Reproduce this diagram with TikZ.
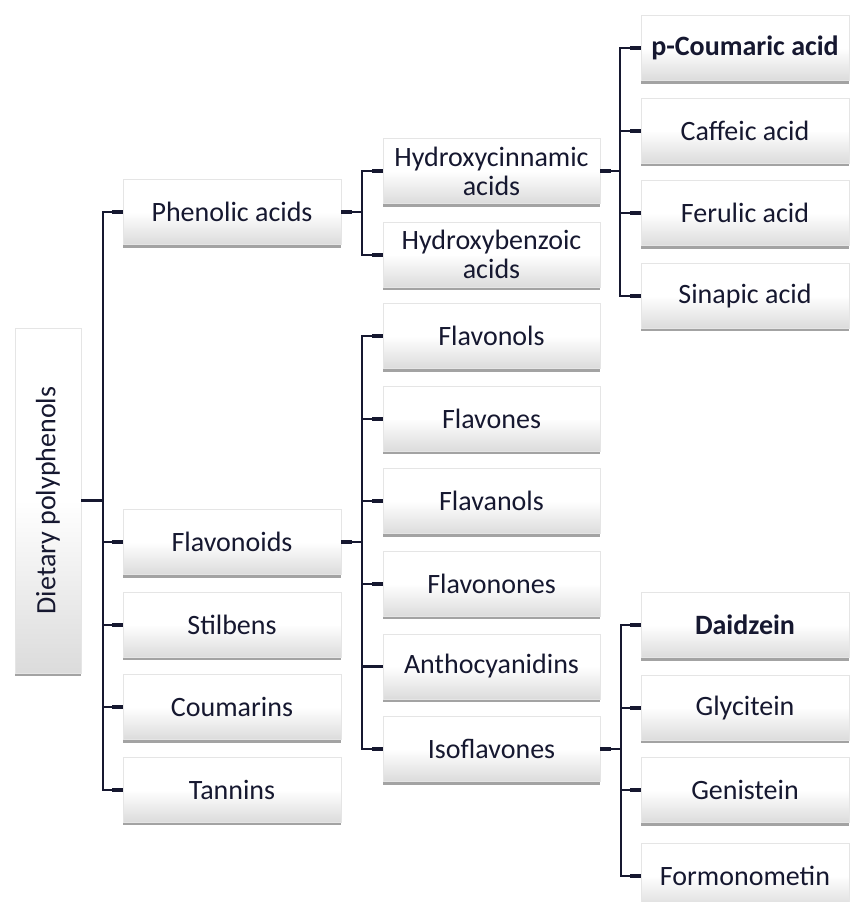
\documentclass[tikz,border=0pt]{standalone}
\usepackage{fontspec}
\setmainfont{Carlito}
\usetikzlibrary{positioning,shadows}

\definecolor{navy}{RGB}{22,24,48}

\begin{document}
\begin{tikzpicture}[
  x=1pt, y=-1pt,
  node distance=17pt,
  box/.style={draw=black!10,line width=0.6pt,align=center,inner sep=0pt,text=navy,
    minimum width=218pt,minimum height=65pt,
    top color=white,bottom color=black!14,middle color=white,
    drop shadow={shadow xshift=0pt,shadow yshift=-3pt,fill=black!60,opacity=0.6},
    font=\fontsize{28}{29}\selectfont},
  leaf/.style={box,minimum width=208pt},
  conn/.style={draw=navy,line width=2.2pt},
  stub/.style={draw=navy,line width=3.8pt}
]
\useasboundingbox (0,0) rectangle (849,902);

% root
\node[box,minimum width=66pt,minimum height=345pt] (root) at (48,500.5)
  {\rotatebox{90}{Dietary polyphenols}};

% first level
\node[box] (phen) at (232,212) {Phenolic acids};
\node[box] (flav) at (232,542) {Flavonoids};
\node[box, below=of flav] (stil) {Stilbens};
\node[box, below=of stil] (coum) {Coumarins};
\node[box, below=of coum] (tann) {Tannins};

% phenolic acids
\node[box,minimum width=217pt] (hcin) at (491.5,171) {Hydroxycinnamic\\acids};
\node[box,minimum width=217pt, below=18pt of hcin] (hben) {Hydroxybenzoic\\acids};

% flavonoids
\node[box,minimum width=217pt] (flvl) at (491.5,336) {Flavonols};
\node[box,minimum width=217pt, below=of flvl] (flvn) {Flavones};
\node[box,minimum width=217pt, below=of flvn] (flan) {Flavanols};
\node[box,minimum width=217pt, below=of flan] (flon) {Flavonones};
\node[box,minimum width=217pt, below=of flon] (anth) {Anthocyanidins};
\node[box,minimum width=217pt, below=of anth] (isof) {Isoflavones};

% hydroxycinnamic acids
\node[leaf] (pcou) at (745,48) {\textbf{p-Coumaric acid}};
\node[leaf, below=of pcou] (caff) {Caffeic acid};
\node[leaf, below=of caff] (feru) {Ferulic acid};
\node[leaf, below=of feru] (sina) {Sinapic acid};

% isoflavones
\node[leaf] (daid) at (745,625) {\textbf{Daidzein}};
\node[leaf, below=of daid] (glyc) {Glycitein};
\node[leaf, below=of glyc] (geni) {Genistein};
\node[leaf, below=20pt of geni] (form) {Formonometin};

% connectors
\draw[conn] (root.east) -- ++(22,0) |- (phen.west);
\draw[conn] (root.east) -- ++(22,0) |- (flav.west);
\draw[conn] (root.east) -- ++(22,0) |- (stil.west);
\draw[conn] (root.east) -- ++(22,0) |- (coum.west);
\draw[conn] (root.east) -- ++(22,0) |- (tann.west);

\draw[conn] (phen.east) -- ++(21,0) |- (hcin.west);
\draw[conn] (phen.east) -- ++(21,0) |- (hben.west);

\draw[conn] (flav.east) -- ++(21,0) |- (flvl.west);
\draw[conn] (flav.east) -- ++(21,0) |- (flvn.west);
\draw[conn] (flav.east) -- ++(21,0) |- (flan.west);
\draw[conn] (flav.east) -- ++(21,0) |- (flon.west);
\draw[conn] (flav.east) -- ++(21,0) |- (anth.west);
\draw[conn] (flav.east) -- ++(21,0) |- (isof.west);

\draw[conn] (hcin.east) -- ++(20,0) |- (pcou.west);
\draw[conn] (hcin.east) -- ++(20,0) |- (caff.west);
\draw[conn] (hcin.east) -- ++(20,0) |- (feru.west);
\draw[conn] (hcin.east) -- ++(20,0) |- (sina.west);

\draw[conn] (isof.east) -- ++(21,0) |- (daid.west);
\draw[conn] (isof.east) -- ++(21,0) |- (glyc.west);
\draw[conn] (isof.east) -- ++(21,0) |- (geni.west);
\draw[conn] (isof.east) -- ++(21,0) |- (form.west);

% thick ends
\draw[stub] (root.east) -- ++(11,0);
\draw[stub] (phen.west) -- ++(-11,0);
\draw[stub] (flav.west) -- ++(-11,0);
\draw[stub] (stil.west) -- ++(-11,0);
\draw[stub] (coum.west) -- ++(-11,0);
\draw[stub] (tann.west) -- ++(-11,0);
\draw[stub] (phen.east) -- ++(11,0);
\draw[stub] (flav.east) -- ++(11,0);
\draw[stub] (hcin.west) -- ++(-11,0);
\draw[stub] (hben.west) -- ++(-11,0);
\draw[stub] (flvl.west) -- ++(-11,0);
\draw[stub] (flvn.west) -- ++(-11,0);
\draw[stub] (flan.west) -- ++(-11,0);
\draw[stub] (flon.west) -- ++(-11,0);
\draw[stub] (anth.west) -- ++(-11,0);
\draw[stub] (isof.west) -- ++(-11,0);
\draw[stub] (hcin.east) -- ++(11,0);
\draw[stub] (isof.east) -- ++(11,0);
\draw[stub] (pcou.west) -- ++(-11,0);
\draw[stub] (caff.west) -- ++(-11,0);
\draw[stub] (feru.west) -- ++(-11,0);
\draw[stub] (sina.west) -- ++(-11,0);
\draw[stub] (daid.west) -- ++(-11,0);
\draw[stub] (glyc.west) -- ++(-11,0);
\draw[stub] (geni.west) -- ++(-11,0);
\draw[stub] (form.west) -- ++(-11,0);
\end{tikzpicture}
\end{document}
